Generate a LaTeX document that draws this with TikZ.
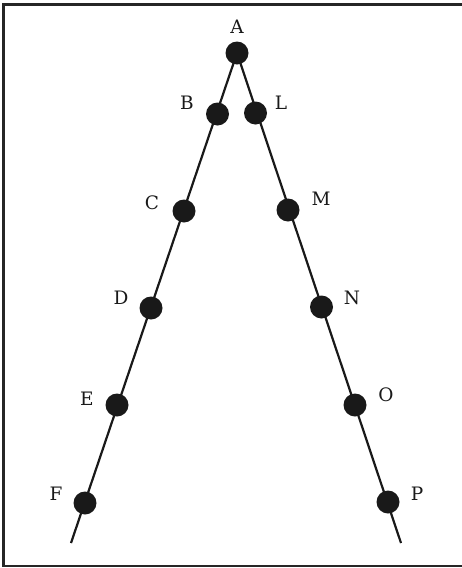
\documentclass[tikz,border=0pt]{standalone}
\usepackage{fontspec}
\setmainfont{DejaVu Serif}
\begin{document}
\begin{tikzpicture}[x=1pt,y=-1pt,
  dot/.style={circle,fill=black!90,inner sep=0pt,minimum size=23pt},
  lab/.style={font=\fontsize{18.5}{18.5}\selectfont,inner sep=0pt,text=black!90},
  edge/.style={line width=2.2pt,draw=black!90}]
\useasboundingbox (0,0) rectangle (462,568);
\clip (0,0) rectangle (462,568);
\draw[line width=2.2pt,draw=black!85] (3.5,4.5) rectangle (475,566);
% ends
\coordinate (lend) at (71,543);
\coordinate (rend) at (401,543);
\node[dot] (A) at (237,53) {};
\draw[edge] (A.center) -- (lend);
\draw[edge] (A.center) -- (rend);
\node[dot] (B) at (217.5,114) {};
\node[dot] (L) at (255.5,113) {};
\node[dot] (C) at (184,211) {};
\node[dot] (M) at (288,210) {};
\node[dot] (D) at (151,308) {};
\node[dot] (N) at (321.5,307) {};
\node[dot] (E) at (117,405) {};
\node[dot] (O) at (355,405) {};
\node[dot] (F) at (85,503) {};
\node[dot] (P) at (388,502) {};
\node[lab] at (237,27) {A};
\node[lab] at (187,103) {B};
\node[lab] at (281,103) {L};
\node[lab] at (152,203) {C};
\node[lab] at (321,199) {M};
\node[lab] at (121,298) {D};
\node[lab] at (352,298) {N};
\node[lab] at (87,399) {E};
\node[lab] at (386,395) {O};
\node[lab] at (56,494) {F};
\node[lab] at (417,494) {P};
\end{tikzpicture}
\end{document}
